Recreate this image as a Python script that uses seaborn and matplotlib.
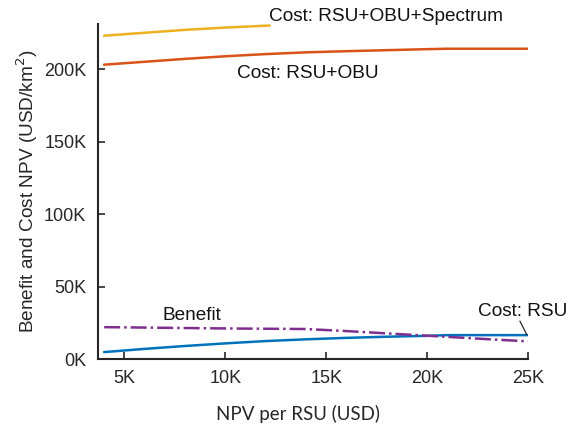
import matplotlib
matplotlib.use("Agg")
import matplotlib.pyplot as plt
import seaborn as sns
import pandas as pd

# NPV per RSU (thousand USD)
npv_per_rsu = [4, 6, 8, 10, 12, 14, 16, 18, 20, 21, 23, 25]
cost_rsu = [4.8, 7.0, 9.0, 10.8, 12.4, 13.6, 14.6, 15.4, 16.0, 16.5, 16.5, 16.5]
cost_rsu_obu = [203, 205, 207, 208.8, 210.3, 211.5, 212.3, 213.0, 213.7, 214.0, 214.0, 214.0]
benefit = [22.0, 21.7, 21.4, 21.1, 20.9, 20.7, 19.3, 17.7, 16.1, 15.3, 13.7, 12.2]
spectrum_x = [4, 6, 8, 10, 12.2]
cost_rsu_obu_spectrum = [223, 225, 227, 228.6, 230]

xticks = [5, 10, 15, 20, 25]
xtick_labels = ["5K", "10K", "15K", "20K", "25K"]
yticks = [0, 50, 100, 150, 200]
ytick_labels = ["0K", "50K", "100K", "150K", "200K"]

df = pd.DataFrame({"x": npv_per_rsu, "rsu": cost_rsu, "rsuobu": cost_rsu_obu, "benefit": benefit})
dfs = pd.DataFrame({"x": spectrum_x, "y": cost_rsu_obu_spectrum})

sns.set_theme(style="white")
plt.rcParams["font.family"] = ["Liberation Sans", "DejaVu Sans"]

fig = plt.figure(figsize=(5.77, 4.30), dpi=100)
ax = fig.add_axes([0.170, 0.165, 0.745, 0.779])

lw = 1.8
sns.lineplot(data=dfs, x="x", y="y", ax=ax, color="#EDB120", lw=lw)
sns.lineplot(data=df, x="x", y="rsuobu", ax=ax, color="#D95319", lw=lw)
sns.lineplot(data=df, x="x", y="rsu", ax=ax, color="#0072BD", lw=lw)
sns.lineplot(data=df, x="x", y="benefit", ax=ax, color="#7E2F8E", lw=lw, linestyle="-.")

ax.set_xlim(3.7, 25)
ax.set_ylim(0, 231)
ax.set_xticks(xticks)
ax.set_xticklabels(xtick_labels)
ax.set_yticks(yticks)
ax.set_yticklabels(ytick_labels)
ax.tick_params(axis="both", labelsize=13, colors="#262626", direction="in", length=5, width=1.2,
               bottom=True, left=True)
ax.tick_params(axis="y", pad=8.5)
ax.tick_params(axis="x", pad=8)
for s in ["top", "right"]:
    ax.spines[s].set_visible(False)
for s in ["left", "bottom"]:
    ax.spines[s].set_color("#262626")
    ax.spines[s].set_linewidth(1.5)

ax.set_xlabel("NPV per RSU (USD)", fontsize=13.5, family=["Lato", "DejaVu Sans"], labelpad=13)
ax.xaxis.label.set_x(0.465)
ax.set_ylabel("Benefit and Cost NPV (USD/km$^2$)", fontsize=13.7, labelpad=3)

kw = dict(fontsize=13.7, va="center", ha="left", color="#111111")
ax.text(12.17, 235.9, "Cost: RSU+OBU+Spectrum", clip_on=False, **kw)
ax.text(10.6, 197, "Cost: RSU+OBU", **kw)
ax.text(6.9, 30.3, "Benefit", **kw)
ax.text(22.5, 33, "Cost: RSU", **kw)
ax.plot([24.6, 24.95], [26.2, 16.6], color="#111111", lw=0.8)

fig.savefig("out.png", dpi=100)
